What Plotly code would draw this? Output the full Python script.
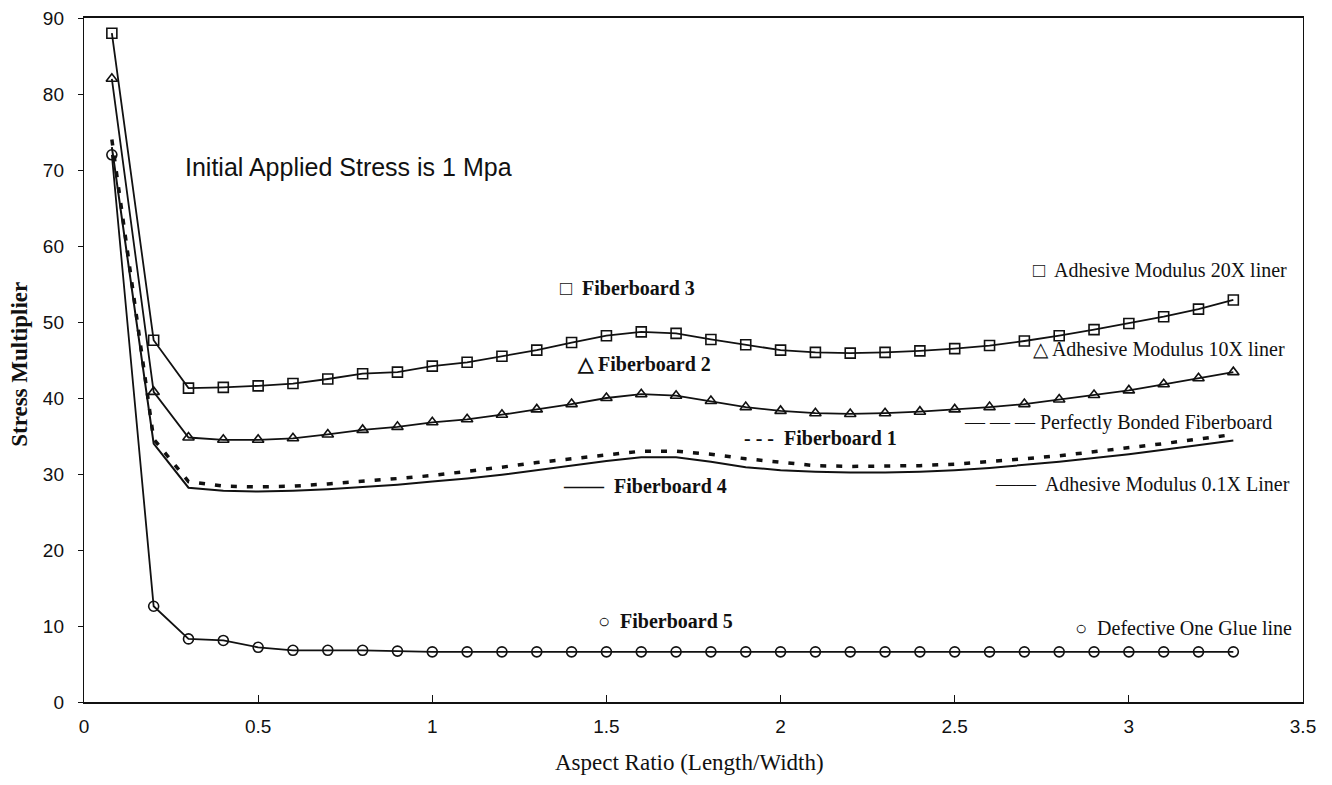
import plotly.graph_objects as go

aspect_ratio = [0.08, 0.2, 0.3, 0.4, 0.5, 0.6, 0.7, 0.8, 0.9, 1.0, 1.1, 1.2, 1.3, 1.4, 1.5, 1.6,
                1.7, 1.8, 1.9, 2.0, 2.1, 2.2, 2.3, 2.4, 2.5, 2.6, 2.7, 2.8, 2.9, 3.0, 3.1, 3.2, 3.3]

modulus_20x = [88.0, 47.6, 41.3, 41.4, 41.6, 41.9, 42.5, 43.2, 43.4, 44.2, 44.7, 45.5, 46.3, 47.3, 48.2, 48.7,
               48.5, 47.7, 47.0, 46.3, 46.0, 45.9, 46.0, 46.2, 46.5, 46.9, 47.5, 48.2, 49.0, 49.8, 50.7, 51.7, 52.9]

modulus_10x = [82.0, 40.8, 34.8, 34.5, 34.5, 34.7, 35.2, 35.8, 36.2, 36.8, 37.2, 37.8, 38.5, 39.2, 40.0, 40.5,
               40.3, 39.6, 38.8, 38.3, 38.0, 37.9, 38.0, 38.2, 38.5, 38.8, 39.2, 39.8, 40.4, 41.0, 41.8, 42.6, 43.4]

perfectly_bonded = [74.0, 34.6, 29.0, 28.4, 28.3, 28.4, 28.7, 29.0, 29.4, 29.8, 30.3, 30.9, 31.5, 32.0, 32.6, 33.0,
                    33.0, 32.6, 32.0, 31.5, 31.1, 31.0, 31.0, 31.1, 31.3, 31.6, 32.0, 32.4, 32.9, 33.4, 34.0, 34.6, 35.2]

modulus_01x = [73.0, 34.0, 28.2, 27.8, 27.7, 27.8, 28.0, 28.3, 28.6, 29.0, 29.4, 29.9, 30.5, 31.1, 31.7, 32.2,
               32.2, 31.6, 30.9, 30.5, 30.3, 30.2, 30.2, 30.3, 30.5, 30.8, 31.2, 31.6, 32.1, 32.6, 33.2, 33.8, 34.4]

defective_glue = [72.0, 12.6, 8.3, 8.1, 7.2, 6.8, 6.8, 6.8, 6.7, 6.6, 6.6, 6.6, 6.6, 6.6, 6.6, 6.6,
                  6.6, 6.6, 6.6, 6.6, 6.6, 6.6, 6.6, 6.6, 6.6, 6.6, 6.6, 6.6, 6.6, 6.6, 6.6, 6.6, 6.6]

x_ticks = [0, 0.5, 1, 1.5, 2, 2.5, 3, 3.5]
y_ticks = [0, 10, 20, 30, 40, 50, 60, 70, 80, 90]

BLACK = "#111111"
fig = go.Figure()

fig.add_trace(go.Scatter(x=aspect_ratio, y=modulus_20x, mode="lines+markers",
                         line=dict(color=BLACK, width=1.8),
                         marker=dict(symbol="square-open", size=10, color=BLACK, line=dict(width=1.6))))
fig.add_trace(go.Scatter(x=aspect_ratio, y=modulus_10x, mode="lines+markers",
                         line=dict(color=BLACK, width=1.8),
                         marker=dict(symbol="triangle-up-open", size=10, color=BLACK, line=dict(width=1.6))))
fig.add_trace(go.Scatter(x=aspect_ratio, y=perfectly_bonded, mode="lines",
                         line=dict(color=BLACK, width=3.5, dash="6px,10px")))
fig.add_trace(go.Scatter(x=aspect_ratio, y=modulus_01x, mode="lines",
                         line=dict(color=BLACK, width=2)))
fig.add_trace(go.Scatter(x=aspect_ratio, y=defective_glue, mode="lines+markers",
                         line=dict(color=BLACK, width=1.8),
                         marker=dict(symbol="circle-open", size=10, color=BLACK, line=dict(width=1.6))))

serif_bold = dict(family="Liberation Serif", size=20, color=BLACK)
serif = dict(family="Liberation Serif", size=20, color=BLACK)

labels = [
    (0.284, 70.4, "Initial Applied Stress is 1 Mpa", dict(family="Liberation Sans", size=25, color=BLACK)),
    (1.36, 54.5, "<b>□  Fiberboard 3</b>", serif_bold),
    (1.41, 44.5, "<b>△ Fiberboard 2</b>", serif_bold),
    (1.89, 34.7, "<b>- - -  Fiberboard 1</b>", serif_bold),
    (1.37, 28.4, "<b>——  Fiberboard 4</b>", serif_bold),
    (1.47, 10.7, "<b>○  Fiberboard 5</b>", serif_bold),
    (2.72, 56.8, "□  Adhesive Modulus 20X liner", serif),
    (2.72, 46.4, "△ Adhesive Modulus 10X liner", serif),
    (2.52, 36.8, "— — — Perfectly Bonded Fiberboard", serif),
    (2.61, 28.7, "——  Adhesive Modulus 0.1X Liner", serif),
    (2.84, 9.7, "○  Defective One Glue line", serif),
]
for lx, ly, txt, fnt in labels:
    fig.add_annotation(x=lx, y=ly, xref="x", yref="y", text=txt, showarrow=False,
                       xanchor="left", yanchor="middle", font=fnt)

fig.add_annotation(x=-0.0525, y=0.493, xref="paper", yref="paper", text="<b>Stress Multiplier</b>",
                   textangle=-90, showarrow=False, xanchor="center", yanchor="middle",
                   font=dict(family="Liberation Serif", size=23, color=BLACK))
fig.add_annotation(x=0.497, y=-0.089, xref="paper", yref="paper", text="Aspect Ratio (Length/Width)",
                   showarrow=False, xanchor="center", yanchor="middle",
                   font=dict(family="Liberation Serif", size=23, color=BLACK))

# The page body adds an 8px margin, so the figure is sized to fit inside the window.
fig.update_layout(
    width=1316, height=769,
    margin=dict(l=76, r=21, t=10, b=75),
    paper_bgcolor="white", plot_bgcolor="white",
    showlegend=False,
)
fig.update_xaxes(range=[0, 3.5], tickvals=x_ticks, ticktext=[f"{v:g}" for v in x_ticks],
                 automargin=False, ticklabeloverflow="allow",
                 showgrid=False, zeroline=False, showline=True, mirror=True,
                 linecolor=BLACK, linewidth=1.6, ticks="inside", ticklen=7, tickcolor=BLACK,
                 ticklabelstandoff=6,
                 tickfont=dict(family="Liberation Sans", size=19, color=BLACK))
fig.update_yaxes(range=[0, 90], tickvals=y_ticks, ticktext=[str(v) for v in y_ticks],
                 automargin=False, ticklabeloverflow="allow",
                 showgrid=False, zeroline=False, showline=True, mirror=True,
                 linecolor=BLACK, linewidth=1.4, ticks="outside", ticklen=5, tickcolor=BLACK,
                 ticklabelstandoff=10,
                 tickfont=dict(family="Liberation Sans", size=19, color=BLACK))

fig.write_html("out.html")
